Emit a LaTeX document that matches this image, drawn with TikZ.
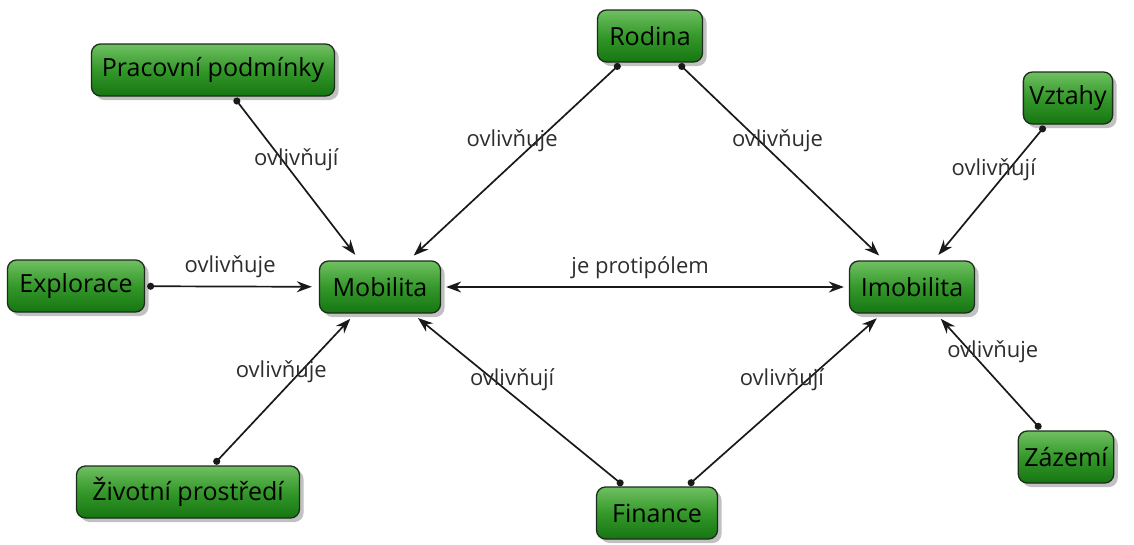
\documentclass[tikz,border=0pt]{standalone}
\usepackage{fontspec}
\setmainfont{Open Sans}
\usetikzlibrary{arrows.meta,shadows,calc}
\definecolor{boxtop}{RGB}{112,192,98}
\definecolor{boxmid}{RGB}{52,152,42}
\definecolor{boxbot}{RGB}{22,118,18}
\definecolor{boxline}{RGB}{28,44,28}
\definecolor{lbltext}{RGB}{45,45,45}
\tikzset{
  concept/.style={draw=boxline, line width=1.3pt, rounded corners=9pt,
    top color=boxtop, bottom color=boxbot, middle color=boxmid,
    minimum height=52pt, inner xsep=6pt, text=black,
    font=\fontsize{25}{28}\selectfont,
    drop shadow={shadow xshift=4pt, shadow yshift=-4pt, opacity=0.35, fill=black!70}},
  link/.style={line width=1.7pt, draw=black!90,
    {Circle[length=7pt]}-{Stealth[length=15pt,width=11pt]},
    shorten <=2pt, shorten >=7pt},
  mutual/.style={line width=1.7pt, draw=black!90,
    {Stealth[length=15pt,width=11pt]}-{Stealth[length=15pt,width=11pt]},
    shorten <=5pt, shorten >=5pt},
  lbl/.style={text=lbltext, font=\fontsize{22}{25}\selectfont, inner sep=0pt}
}
\begin{document}
\begin{tikzpicture}[x=1pt,y=-1pt]
\useasboundingbox (0,0) rectangle (1134,544);

% concepts
\node[concept, minimum width=243pt] (prac) at (213,70)  {Pracovní podmínky};
\node[concept, minimum width=105pt] (rod)  at (650,36)  {Rodina};
\node[concept, minimum width=84pt]  (vzt)  at (1068,98) {Vztahy};
\node[concept, minimum width=137pt] (expl) at (76,286)  {Explorace};
\node[concept, minimum width=121pt] (mob)  at (380,287) {Mobilita};
\node[concept, minimum width=125pt] (imob) at (912,287) {Imobilita};
\node[concept, minimum width=223pt] (ziv)  at (188,492) {Životní prostředí};
\node[concept, minimum width=121pt] (fin)  at (657,513) {Finance};
\node[concept, minimum width=88pt]  (zaz)  at (1066,457){Zázemí};

% relations
\draw[link] (prac) -- (mob);
\draw[link] (rod) -- (mob);
\draw[link] (rod) -- (imob);
\draw[link] (vzt) -- (imob);
\draw[link] (expl) -- (mob);
\draw[mutual] (mob) -- (imob);
\draw[link] (ziv) -- (mob);
\draw[link] (fin) -- (mob);
\draw[link] (fin) -- (imob);
\draw[link] (zaz) -- (imob);

% relation labels
\node[lbl] (l1)  at ($(prac)!0.415!(mob)+(14,0)$)   {ovlivňují};
\node[lbl] (l2)  at ($(rod)!0.418!(mob)+(-25,0)$)   {ovlivňuje};
\node[lbl] (l3)  at ($(rod)!0.418!(imob)+(18,0)$)   {ovlivňuje};
\node[lbl] (l4)  at ($(vzt)!0.38!(imob)+(-15,0)$)   {ovlivňují};
\node[lbl] (l5)  at ($(expl)!0.507!(mob)+(0,-20)$)  {ovlivňuje};
\node[lbl] (l6)  at ($(mob)!0.489!(imob)+(0,-19)$)  {je protipólem};
\node[lbl] (l7)  at ($(ziv)!0.585!(mob)+(-19,0)$)   {ovlivňuje};
\node[lbl] (l8)  at ($(fin)!0.588!(mob)+(18,0)$)    {ovlivňují};
\node[lbl] (l9)  at ($(fin)!0.588!(imob)+(-25,0)$)  {ovlivňují};
\node[lbl] (l10) at ($(zaz)!0.618!(imob)+(22,0)$)   {ovlivňuje};
\end{tikzpicture}
\end{document}
